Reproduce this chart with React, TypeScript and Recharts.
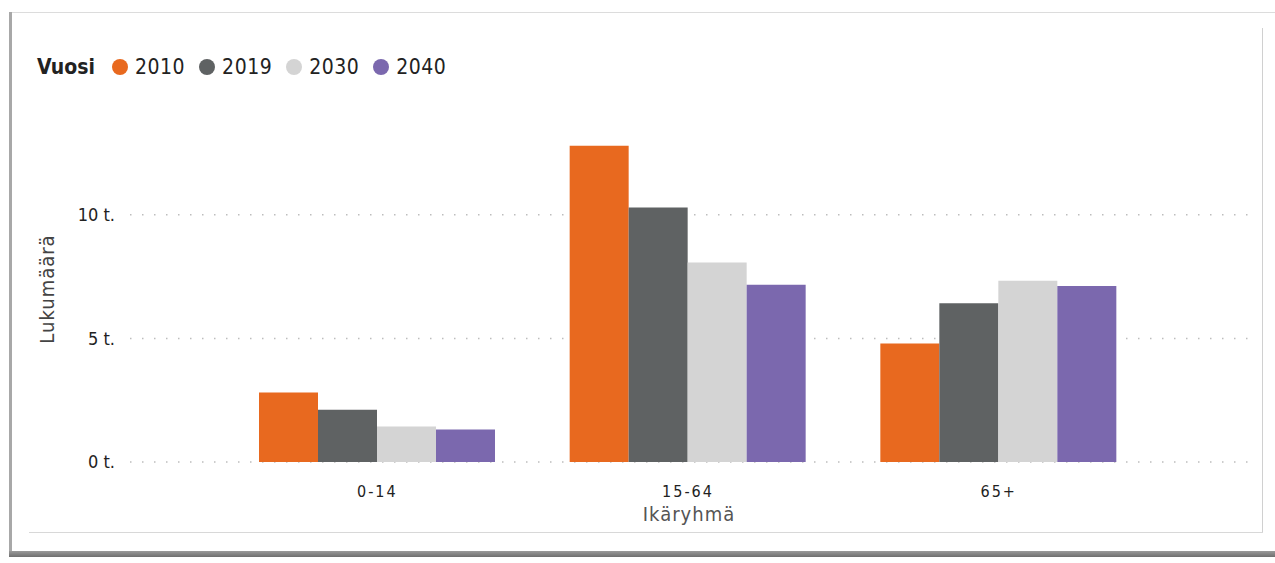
import { BarChart, Bar, XAxis, YAxis, CartesianGrid, Legend } from 'recharts'

const ageGroups = ['0-14', '15-64', '65+']
const years = ['2010', '2019', '2030', '2040']
const values2010 = [2810, 12800, 4790]
const values2019 = [2110, 10300, 6420]
const values2030 = [1440, 8070, 7330]
const values2040 = [1310, 7170, 7120]
const yTicks = [0, 5000, 10000]

const colors = ['#E8691F', '#5F6263', '#D4D4D4', '#7B68AE']
const seriesValues = [values2010, values2019, values2030, values2040]

const data = ageGroups.map((g, i) => {
    const row: Record<string, string | number> = { group: g }
    years.forEach((y, j) => {
        row[y] = seriesValues[j][i]
    })
    return row
})

const FONT = '"DejaVu Sans Condensed", "DejaVu Sans", sans-serif'

function LegendContent({ payload }: any) {
    return (
        <div style={{ display: 'flex', alignItems: 'center', fontFamily: FONT, fontSize: 21, lineHeight: '24px', color: '#222' }}>
            <span style={{ fontWeight: 'bold', marginRight: 17 }}>Vuosi</span>
            {(payload || []).map((p: any) => (
                <span key={p.value} style={{ display: 'flex', alignItems: 'center', marginRight: 14 }}>
                    <span style={{ width: 16, height: 16, borderRadius: 8, background: p.color, marginRight: 7 }} />
                    <span style={{ letterSpacing: 0.5 }}>{p.value}</span>
                </span>
            ))}
        </div>
    )
}

export default function App() {
    return (
        <div style={{ position: 'absolute', left: 0, top: 0, width: 1275, height: 563, background: '#fff', overflow: 'hidden' }}>
            {/* card frame / shadow */}
            <div style={{ position: 'absolute', left: 10, top: 12, width: 1265, height: 1, background: '#dcdcdc' }} />
            <div style={{ position: 'absolute', left: 9, top: 12, width: 3, height: 544, background: '#a8a8a8' }} />
            <div style={{ position: 'absolute', left: 9, top: 551, width: 1266, height: 6, background: 'linear-gradient(#9a9a9a, #6f6f6f)' }} />
            <div style={{ position: 'absolute', left: 1262, top: 28, width: 1, height: 505, background: '#d0d0d0' }} />
            <div style={{ position: 'absolute', left: 29, top: 532, width: 1234, height: 1, background: '#d8d8d8' }} />

            <div style={{ position: 'absolute', left: 0, top: 0 }}>
                <BarChart
                    width={1275}
                    height={563}
                    data={data}
                    margin={{ top: 116, right: 27, bottom: 41, left: 40 }}
                    barCategoryGap={37}
                    barGap={0}
                >
                    <CartesianGrid
                        vertical={false}
                        horizontalValues={yTicks}
                        stroke="#bdbdbd"
                        strokeWidth={1.5}
                        strokeDasharray="1.5 10.5"
                    />
                    <XAxis
                        dataKey="group"
                        height={60}
                        padding={{ left: 92, right: 94 }}
                        axisLine={false}
                        tickLine={false}
                        tickSize={0}
                        tickMargin={24}
                        tick={{ fontFamily: FONT, fontSize: 16, fill: '#222', letterSpacing: 2 }}
                        label={(props: any) => {
                            const vb = props.viewBox
                            return (
                                <text x={vb.x + vb.width / 2} y={521} textAnchor="middle" fontFamily={FONT} fontSize={20} fill="#555" letterSpacing={1}>
                                    Ikäryhmä
                                </text>
                            )
                        }}
                    />
                    <YAxis
                        width={90}
                        domain={[0, 14000]}
                        ticks={yTicks}
                        axisLine={false}
                        tickLine={false}
                        tickSize={0}
                        tickMargin={15}
                        tick={{ fontFamily: FONT, fontSize: 18, fill: '#222' }}
                        tickFormatter={(v: number) => `${v / 1000} t.`}
                        label={(props: any) => {
                            const vb = props.viewBox
                            const cy = vb.y + vb.height / 2
                            return (
                                <text x={54} y={cy} transform={`rotate(-90 54 ${cy})`} textAnchor="middle" fontFamily={FONT} fontSize={20} fill="#444" letterSpacing={1}>
                                    Lukumäärä
                                </text>
                            )
                        }}
                    />
                    <Legend
                        layout="horizontal"
                        verticalAlign="middle"
                        align="center"
                        content={<LegendContent />}
                        wrapperStyle={{ left: 37, top: 55, width: 'auto' }}
                    />
                    {years.map((y, i) => (
                        <Bar key={y} dataKey={y} fill={colors[i]} isAnimationActive={false} />
                    ))}
                </BarChart>
            </div>
        </div>
    )
}
